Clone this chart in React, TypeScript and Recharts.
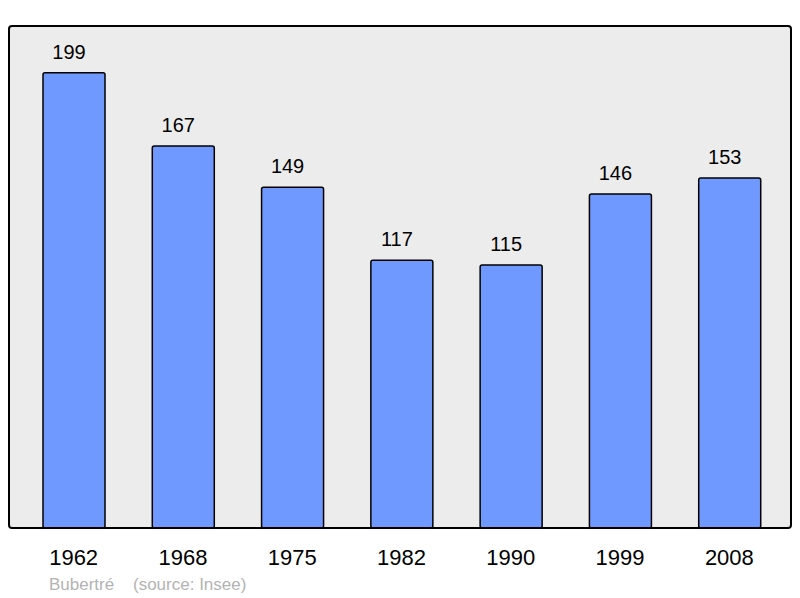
import React from 'react';
import { BarChart, Bar, XAxis, YAxis, CartesianGrid, LabelList } from 'recharts';

const years = ['1962', '1968', '1975', '1982', '1990', '1999', '2008'];
const population = [199, 167, 149, 117, 115, 146, 153];

const data = years.map((y, i) => ({ year: y, value: population[i] }));

const FONT = '"Liberation Sans", Arial, sans-serif';

export default function App() {
  return (
    <div style={{ position: 'absolute', left: 0, top: 0, width: 800, height: 598, fontFamily: FONT }}>
      <BarChart
        width={800}
        height={598}
        data={data}
        margin={{ top: 27, right: 9, left: 9, bottom: 0 }}
        barSize={62}
      >
        <CartesianGrid fill="#ececec" horizontal={false} vertical={false} />
        <YAxis hide domain={[0, 219]} type="number" />
        <XAxis
          dataKey="year"
          height={70}
          axisLine={false}
          tickLine={false}
          tickMargin={15}
          padding={{ left: 10, right: 7 }}
          interval={0}
          tick={{ fill: '#000', fontSize: 22, fontFamily: FONT }}
        />
        <Bar dataKey="value" fill="#7099ff" stroke="#000" strokeWidth={1.5} radius={2} isAnimationActive={false}>
          <LabelList dataKey="value" position="top" offset={14} dx={-5} fill="#000" fontSize={20} fontFamily={FONT} />
        </Bar>
      </BarChart>
      <div
        style={{
          position: 'absolute',
          left: 8,
          top: 25,
          width: 784,
          height: 504,
          border: '2px solid #000',
          borderRadius: 4,
          pointerEvents: 'none',
          boxSizing: 'border-box',
        }}
      />
      <div style={{ position: 'absolute', left: 49, top: 575.6, fontSize: 17, lineHeight: '17px', color: '#b3b3b3', whiteSpace: 'nowrap' }}>
        Bubertré
      </div>
      <div style={{ position: 'absolute', left: 133, top: 575.6, fontSize: 17, lineHeight: '17px', color: '#b3b3b3', whiteSpace: 'nowrap' }}>
        (source: Insee)
      </div>
    </div>
  );
}
